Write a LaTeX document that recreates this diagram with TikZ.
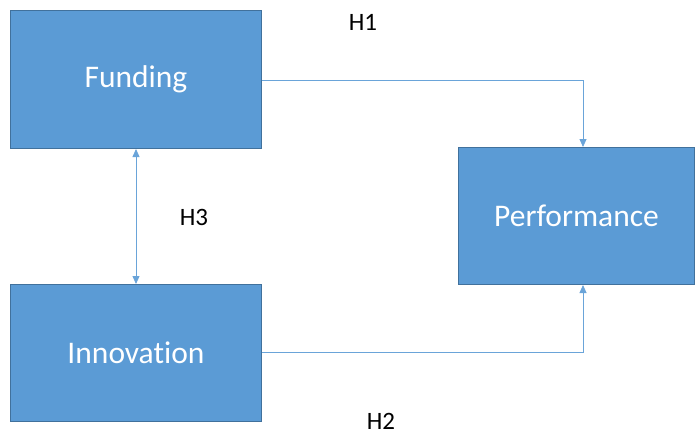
\documentclass[tikz,border=0pt]{standalone}
\usepackage{fontspec}
\setmainfont[Ligatures=NoCommon]{Carlito}
\usetikzlibrary{arrows.meta}
\definecolor{boxfill}{HTML}{5B9BD5}
\definecolor{boxline}{HTML}{41719C}
\definecolor{conn}{HTML}{6AA4D9}
\begin{document}
\begin{tikzpicture}[x=1pt,y=-1pt,
  block/.style={draw=boxline,line width=1pt,fill=boxfill,text=white,font=\fontsize{31.5}{36}\selectfont,anchor=north west,inner sep=0pt},
  hyp/.style={font=\fontsize{25}{30}\selectfont,text=black},
  link/.style={draw=conn,line width=0.8pt,-{Triangle[length=8pt,width=7pt]}}]
\useasboundingbox (0,0) rectangle (698,436);
\node[block,minimum width=251pt,minimum height=138pt] (fund) at (10,10) {Funding};
\node[block,minimum width=236pt,minimum height=137pt] (perf) at (458,147) {Performance};
\node[block,minimum width=251pt,minimum height=137pt] (innov) at (10,284) {Innovation};
\coordinate (c1) at (583,80);
\coordinate (c2) at (583,352);
\draw[link] (fund.east |- c1) -- (c1) -- (c1 |- perf.north);
\draw[link] (innov.east |- c2) -- (c2) -- (c2 |- perf.south);
\draw[link,{Triangle[length=8pt,width=7pt]}-{Triangle[length=8pt,width=7pt]}] (fund.south) -- (innov.north);
\node[hyp] (h1) at (363,22) {H1};
\node[hyp] (h3) at (194,217) {H3};
\node[hyp] (h2) at (381,421) {H2};
\end{tikzpicture}
\end{document}
